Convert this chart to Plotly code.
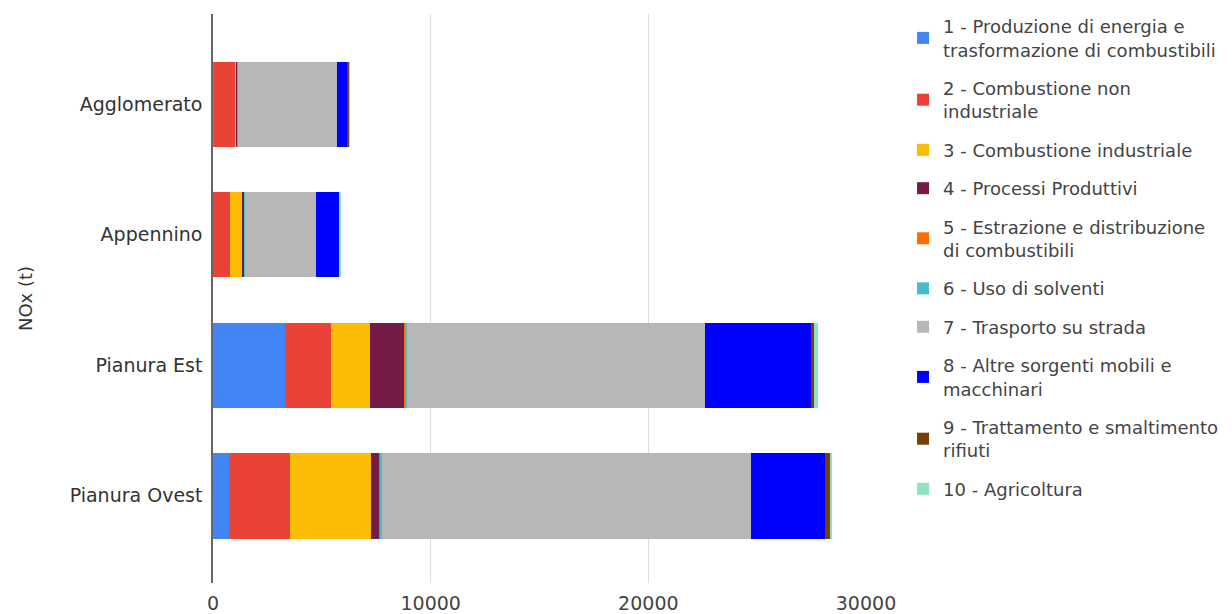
import plotly.graph_objects as go

categories = ["Agglomerato", "Appennino", "Pianura Est", "Pianura Ovest"]

series_names = [
    "1 - Produzione di energia e<br>trasformazione di combustibili",
    "2 - Combustione non<br>industriale",
    "3 - Combustione industriale",
    "4 - Processi Produttivi",
    "5 - Estrazione e distribuzione<br>di combustibili",
    "6 - Uso di solventi",
    "7 - Trasporto su strada",
    "8 - Altre sorgenti mobili e<br>macchinari",
    "9 - Trattamento e smaltimento<br>rifiuti",
    "10 - Agricoltura",
]

s1_produzione = [50, 0, 3295, 715]
s2_comb_non_ind = [940, 760, 2145, 2805]
s3_comb_ind = [100, 610, 1755, 3730]
s4_processi = [20, 60, 1620, 420]
s5_estrazione = [10, 30, 20, 20]
s6_solventi = [10, 20, 60, 60]
s7_trasporto = [4560, 3260, 13700, 16950]
s8_altre_mobili = [460, 1070, 4900, 3420]
s9_rifiuti = [110, 20, 130, 270]
s10_agricoltura = [10, 20, 150, 30]

series_values = [s1_produzione, s2_comb_non_ind, s3_comb_ind, s4_processi,
                 s5_estrazione, s6_solventi, s7_trasporto, s8_altre_mobili,
                 s9_rifiuti, s10_agricoltura]

colors = ["#4285F4", "#EA4335", "#FBBC04", "#741B47", "#FF6D01",
          "#46BDC6", "#B7B7B7", "#0000FF", "#783F04", "#8FE3C1"]

x_ticks = [0, 10000, 20000, 30000]

fig = go.Figure()
for i, (name, vals, col) in enumerate(zip(series_names, series_values, colors)):
    fig.add_trace(go.Bar(
        y=categories, x=vals, name=name, orientation="h",
        marker=dict(color=col, line=dict(width=0)),
        legendgroup=f"g{i}",
    ))

font_family = "DejaVu Sans, Verdana, sans-serif"

fig.update_layout(
    barmode="stack",
    bargap=0.346,
    width=1232, height=614,
    margin=dict(l=205, r=374, t=6, b=39, autoexpand=False),
    plot_bgcolor="white", paper_bgcolor="white",
    font=dict(family=font_family, size=19, color="#444444"),
    showlegend=True,
    legend=dict(
        xref="container", yref="container",
        x=0.7265, xanchor="left", y=1.012, yanchor="top",
        font=dict(size=18, color="#444444"),
        tracegroupgap=12,
        traceorder="grouped",
        bgcolor="rgba(0,0,0,0)",
        maxheight=1.0,
    ),
    xaxis=dict(
        range=[0, 30000],
        tickvals=x_ticks,
        ticktext=[str(v) for v in x_ticks],
        showgrid=True, gridcolor="#DDDDDD", gridwidth=1,
        zeroline=False, showline=False,
        tickfont=dict(size=19, color="#444444"),
        ticks="", automargin=False, ticklabelstandoff=7,
    ),
    yaxis=dict(
        categoryorder="array", categoryarray=categories,
        range=[3.668, -0.692],
        showgrid=False, zeroline=False,
        showline=True, linecolor="#666666", linewidth=1.5,
        ticks="", ticklabelstandoff=5, automargin=False,
        tickfont=dict(size=19, color="#333333"),
        title=dict(text="NOx (t)", standoff=32, font=dict(size=18, color="#333333")),
    ),
)

fig.write_html("out.html")
